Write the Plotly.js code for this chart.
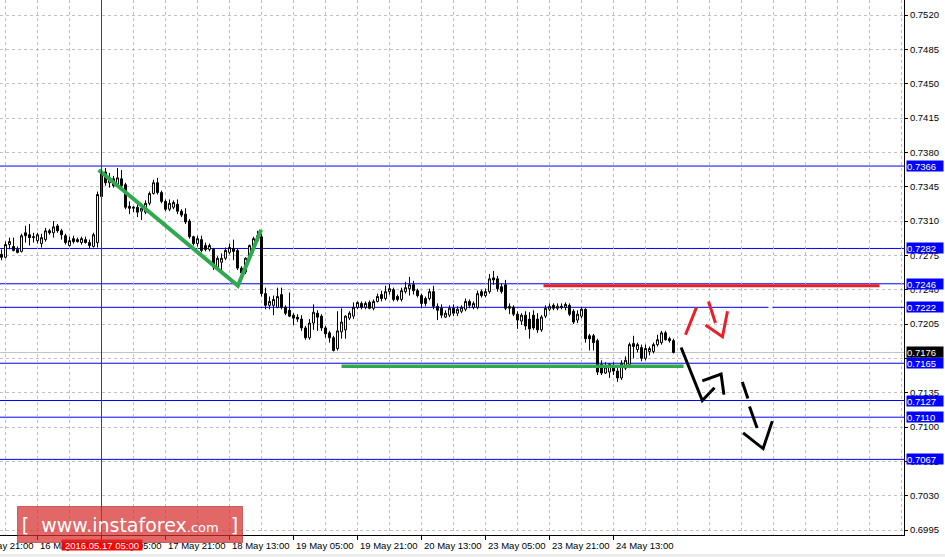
<!DOCTYPE html>
<html><head><meta charset="utf-8">
<script src="https://cdn.plot.ly/plotly-3.0.1.min.js"></script>
<style>html,body{margin:0;padding:0;background:#fff;overflow:hidden}#chart{width:945px;height:557px}</style>
</head><body><div id="chart"></div>
<script>
// AUDUSD H1 candles (bar 0 .. 168)
const openP = [.7276,.7273,.7286,.7284,.7281,.7279,.7298,.7296,.7293,.7290,.7287,.7291,.7300,.7298,.7305,.7300,.7295,.7285,.7292,.7291,.7288,.7291,.7288,.7284,.7288,.7359,.7360,.7349,.7353,.7347,.7353,.7347,.7325,.7323,.7324,.7320,.7319,.7328,.7338,.7349,.7339,.7330,.7322,.7324,.7327,.7320,.7317,.7310,.7294,.7287,.7291,.7285,.7281,.7281,.7263,.7268,.7272,.7278,.7282,.7280,.7262,.7258,.7272,.7283,.7290,.7294,.7236,.7224,.7224,.7222,.7235,.7222,.7219,.7214,.7212,.7210,.7201,.7191,.7206,.7216,.7213,.7201,.7196,.7191,.7180,.7197,.7199,.7211,.7213,.7222,.7226,.7222,.7227,.7221,.7228,.7235,.7231,.7238,.7240,.7233,.7230,.7238,.7241,.7245,.7239,.7234,.7231,.7231,.7238,.7223,.7221,.7212,.7214,.7221,.7216,.7218,.7220,.7228,.7222,.7222,.7238,.7234,.7238,.7252,.7251,.7243,.7245,.7221,.7222,.7215,.7208,.7214,.7210,.7214,.7210,.7199,.7213,.7220,.7224,.7221,.7223,.7222,.7224,.7218,.7209,.7213,.7220,.7193,.7193,.7188,.7164,.7155,.7156,.7161,.7157,.7150,.7160,.7164,.7185,.7179,.7181,.7170,.7177,.7177,.7184,.7186,.7196,.7190,.7188];
const highP = [.7281,.7289,.7293,.7293,.7284,.7297,.7305,.7307,.7298,.7298,.7297,.7303,.7302,.7310,.7307,.7302,.7297,.7294,.7295,.7293,.7294,.7294,.7291,.7298,.7340,.7363,.7364,.7359,.7356,.7364,.7362,.7349,.7330,.7325,.7331,.7327,.7331,.7340,.7352,.7354,.7341,.7332,.7332,.7331,.7332,.7322,.7323,.7312,.7295,.7295,.7295,.7288,.7287,.7282,.7274,.7277,.7283,.7287,.7291,.7282,.7264,.7273,.7286,.7294,.7300,.7297,.7242,.7233,.7234,.7242,.7242,.7224,.7237,.7216,.7215,.7214,.7203,.7210,.7225,.7219,.7215,.7203,.7198,.7193,.7218,.7221,.7214,.7218,.7227,.7228,.7228,.7228,.7229,.7230,.7236,.7239,.7244,.7246,.7242,.7235,.7242,.7248,.7253,.7249,.7241,.7236,.7233,.7241,.7244,.7226,.7225,.7219,.7224,.7225,.7223,.7224,.7231,.7230,.7228,.7239,.7240,.7241,.7256,.7259,.7254,.7246,.7250,.7226,.7224,.7218,.7216,.7218,.7217,.7219,.7216,.7214,.7224,.7226,.7226,.7226,.7226,.7227,.7226,.7220,.7219,.7222,.7221,.7195,.7195,.7190,.7168,.7166,.7165,.7166,.7160,.7168,.7172,.7186,.7193,.7186,.7184,.7184,.7182,.7186,.7194,.7198,.7198,.7192,.7190];
const lowP = [.7270,.7272,.7281,.7279,.7277,.7278,.7288,.7285,.7288,.7287,.7283,.7289,.7296,.7293,.7298,.7291,.7286,.7284,.7287,.7288,.7286,.7287,.7282,.7283,.7283,.7332,.7346,.7344,.7344,.7345,.7344,.7322,.7317,.7319,.7314,.7311,.7317,.7326,.7337,.7337,.7328,.7320,.7320,.7322,.7317,.7314,.7307,.7292,.7285,.7284,.7278,.7279,.7279,.7260,.7262,.7260,.7270,.7276,.7270,.7260,.7254,.7256,.7269,.7280,.7288,.7233,.7220,.7220,.7214,.7221,.7220,.7214,.7212,.7204,.7207,.7198,.7189,.7189,.7199,.7198,.7198,.7191,.7186,.7177,.7178,.7190,.7190,.7209,.7210,.7220,.7220,.7220,.7220,.7219,.7227,.7228,.7229,.7235,.7228,.7228,.7228,.7236,.7234,.7235,.7232,.7222,.7223,.7229,.7220,.7209,.7211,.7211,.7212,.7213,.7213,.7216,.7218,.7221,.7220,.7220,.7232,.7232,.7236,.7245,.7238,.7236,.7219,.7215,.7213,.7200,.7204,.7199,.7190,.7199,.7196,.7197,.7211,.7218,.7219,.7219,.7220,.7219,.7213,.7205,.7206,.7211,.7186,.7178,.7178,.7153,.7153,.7154,.7150,.7153,.7146,.7148,.7158,.7160,.7170,.7176,.7167,.7168,.7173,.7175,.7182,.7184,.7188,.7186,.7175];
const closeP = [.7273,.7286,.7289,.7280,.7278,.7295,.7295,.7293,.7294,.7296,.7293,.7300,.7298,.7304,.7300,.7296,.7288,.7290,.7289,.7289,.7292,.7288,.7285,.7296,.7337,.7335,.7349,.7354,.7346,.7354,.7346,.7324,.7323,.7324,.7319,.7323,.7328,.7338,.7349,.7339,.7330,.7322,.7328,.7329,.7320,.7316,.7309,.7294,.7287,.7292,.7280,.7281,.7285,.7263,.7272,.7272,.7280,.7283,.7279,.7262,.7257,.7272,.7285,.7292,.7295,.7236,.7224,.7228,.7230,.7233,.7222,.7216,.7213,.7211,.7210,.7201,.7191,.7206,.7217,.7212,.7201,.7195,.7191,.7178,.7198,.7207,.7213,.7216,.7222,.7227,.7222,.7226,.7221,.7228,.7233,.7231,.7238,.7241,.7230,.7230,.7239,.7242,.7245,.7239,.7234,.7226,.7226,.7238,.7223,.7219,.7214,.7216,.7221,.7216,.7220,.7222,.7228,.7224,.7226,.7236,.7234,.7238,.7251,.7250,.7241,.7238,.7221,.7223,.7215,.7209,.7214,.7203,.7200,.7201,.7199,.7212,.7221,.7223,.7221,.7223,.7222,.7225,.7215,.7207,.7215,.7220,.7190,.7190,.7186,.7156,.7155,.7161,.7164,.7157,.7150,.7165,.7168,.7184,.7182,.7184,.7170,.7180,.7180,.7184,.7189,.7196,.7189,.7188,.7176];

const tickBars = [-7, 9, 25, 41, 57, 73, 89, 105, 121, 137, 153];
const tickLabels = ["15 May 21:00","16 May 13:00","17 May 05:00","17 May 21:00","18 May 13:00","19 May 05:00","19 May 21:00","20 May 13:00","23 May 05:00","23 May 21:00","24 May 13:00"];
const priceTicks = [0.6995,0.7030,0.7065,0.7100,0.7135,0.7170,0.7205,0.7240,0.7275,0.7310,0.7345,0.7380,0.7415,0.7450,0.7485,0.7520];
const levelPrices = [0.7366, 0.7282, 0.7246, 0.7165, 0.7127, 0.7110, 0.7067];
const gappedLevel = 0.7222;
const bidPrice = 0.7176;
const markerBar = 25;
const markerLabel = "2016.05.17 05:00";

// hand-drawn analysis objects
const greenTrendX = [24.3, 59.1, 64.9];
const greenTrendY = [0.7362, 0.7244, 0.7301];
const greenSupportX = [85, 170.5];
const greenSupportY = [0.7162, 0.7162];
const redResistX = [135.5, 219.5];
const redResistY = [0.7244, 0.7244];
const redArrowX = [171, 173.75, null, 176.75, 178.5, null, 176, 180.25, 181.5];
const redArrowY = [0.7194, 0.7222, null, 0.7228, 0.7206, null, 0.7204, 0.7192, 0.7218];
const blackArrowX = [169.9, 175.2, 178.25, null, 175.2, 179.9, 180.6, null, 185.2, 186.6, null, 187, 188.9, null, 185.4, 190.4, 192.7];
const blackArrowY = [0.7181, 0.7127, 0.7140, null, 0.7147, 0.7154, 0.7133, null, 0.7146, 0.7129, null, 0.7121, 0.7099, null, 0.7094, 0.7078, 0.7106];

const X0 = -0.375, X1 = 225.625;
const Y0 = 0.69899, Y1 = 0.753529;
const bars = openP.map((_, i) => i);
const toPaperX = b => (b - X0) / (X1 - X0);

const traces = [
  {type:'candlestick', x:bars, open:openP, high:highP, low:lowP, close:closeP,
   increasing:{line:{color:'#000',width:1}, fillcolor:'#ffffff'},
   decreasing:{line:{color:'#000',width:1}, fillcolor:'#000000'},
   whiskerwidth:0, hoverinfo:'skip', showlegend:false},
  {type:'scatter', mode:'lines', x:greenTrendX, y:greenTrendY, line:{color:'#2fa84f', width:4}, hoverinfo:'skip'},
  {type:'scatter', mode:'lines', x:greenSupportX, y:greenSupportY, line:{color:'#2fa84f', width:3.5}, hoverinfo:'skip'},
  {type:'scatter', mode:'lines', x:redResistX, y:redResistY, line:{color:'#e8202a', width:3}, hoverinfo:'skip'},
  {type:'scatter', mode:'lines', x:redArrowX, y:redArrowY, line:{color:'#e8202a', width:3}, connectgaps:false, hoverinfo:'skip'},
  {type:'scatter', mode:'lines', x:blackArrowX, y:blackArrowY, line:{color:'#000', width:3}, connectgaps:false, hoverinfo:'skip'}
];

const shapes = [];
levelPrices.forEach(p => shapes.push({type:'line', xref:'paper', x0:0, x1:1, yref:'y', y0:p, y1:p, line:{color:'#0000ff', width:1}, layer:'between'}));
shapes.push({type:'line', xref:'x', x0:X0, x1:191.75, yref:'y', y0:gappedLevel, y1:gappedLevel, line:{color:'#0000ff', width:1}, layer:'between'});
shapes.push({type:'line', xref:'x', x0:192.75, x1:X1, yref:'y', y0:gappedLevel, y1:gappedLevel, line:{color:'#0000ff', width:1}, layer:'between'});
shapes.push({type:'line', xref:'paper', x0:0, x1:1, yref:'y', y0:bidPrice, y1:bidPrice, line:{color:'#c0c0c0', width:1}, layer:'between'});
shapes.push({type:'line', xref:'x', x0:markerBar, x1:markerBar, yref:'paper', y0:0, y1:1, line:{color:'#e00000', width:1}, layer:'above'});
shapes.push({type:'rect', xref:'paper', x0:-0.01, x1:1.06, yref:'paper', y0:-22/535, y1:-19/535, fillcolor:'#ececec', line:{width:0}, layer:'above'});

const lf = {family:'Liberation Sans, Arial, sans-serif', size:9.5, color:'#000'};
const annotations = [];
tickBars.forEach((b, i) => annotations.push({xref:'paper', x:toPaperX(b), xanchor:'left', xshift:0,
  yref:'paper', y:0, yanchor:'middle', yshift:-10, text:tickLabels[i], showarrow:false, font:lf}));
annotations.push({xref:'paper', x:toPaperX(markerBar), xanchor:'center', yref:'paper', y:0, yanchor:'middle', yshift:-10,
  text:markerLabel, showarrow:false, font:{family:lf.family, size:9.5, color:'#fff'}, bgcolor:'#ff0000', borderpad:0, width:80, height:10});
const boxLabel = (p, bg) => ({xref:'paper', x:1, xanchor:'left', xshift:2, yref:'y', y:p, yanchor:'middle',
  text:p.toFixed(4), showarrow:false, font:{family:lf.family, size:9.5, color:'#fff'}, bgcolor:bg, borderpad:0, width:36, height:10, align:'left'});
levelPrices.forEach(p => annotations.push(boxLabel(p, '#0000ff')));
annotations.push(boxLabel(gappedLevel, '#0000ff'));
annotations.push(boxLabel(bidPrice, '#000000'));
annotations.push({xref:'paper', x:17/904, xanchor:'left', yref:'paper', y:29/535, yanchor:'top',
  text:'[&#160;&#160;www.instaforex<span style="font-size:13px">.com</span>&#160;&#160;]', showarrow:false,
  font:{family:'DejaVu Sans, Verdana, sans-serif', size:19, color:'#ffffff'},
  bgcolor:'rgba(215,45,45,0.72)', bordercolor:'rgba(170,40,40,0.6)', borderwidth:1, borderpad:0, width:224, height:35, align:'center'});

const layout = {
  width:945, height:557, margin:{l:0, r:41, t:0, b:22, pad:0},
  paper_bgcolor:'#fff', plot_bgcolor:'#fff', showlegend:false, dragmode:false, boxgap:0.3,
  xaxis:{type:'linear', range:[X0, X1], rangeslider:{visible:false}, tickmode:'array', tickvals:tickBars,
    showticklabels:false, ticks:'outside', ticklen:4, tickcolor:'#000', showgrid:true, gridcolor:'#c0c0c0',
    griddash:'3px,3px', gridwidth:1, showline:true, linecolor:'#000', linewidth:1, zeroline:false, fixedrange:true,
    minor:{tickmode:'linear', tick0:1, dtick:8, showgrid:true, gridcolor:'#c0c0c0', griddash:'3px,3px', gridwidth:1, ticks:''}},
  yaxis:{side:'right', range:[Y0, Y1], tickmode:'array', tickvals:priceTicks, tickformat:'.4f',
    ticks:'outside', ticklen:3, tickcolor:'#000', tickfont:lf, showgrid:true, gridcolor:'#c0c0c0',
    griddash:'3px,3px', gridwidth:1, showline:true, linecolor:'#000', linewidth:1, zeroline:false, fixedrange:true},
  shapes:shapes, annotations:annotations
};
Plotly.newPlot('chart', traces, layout, {staticPlot:true, displayModeBar:false});
</script></body></html>
